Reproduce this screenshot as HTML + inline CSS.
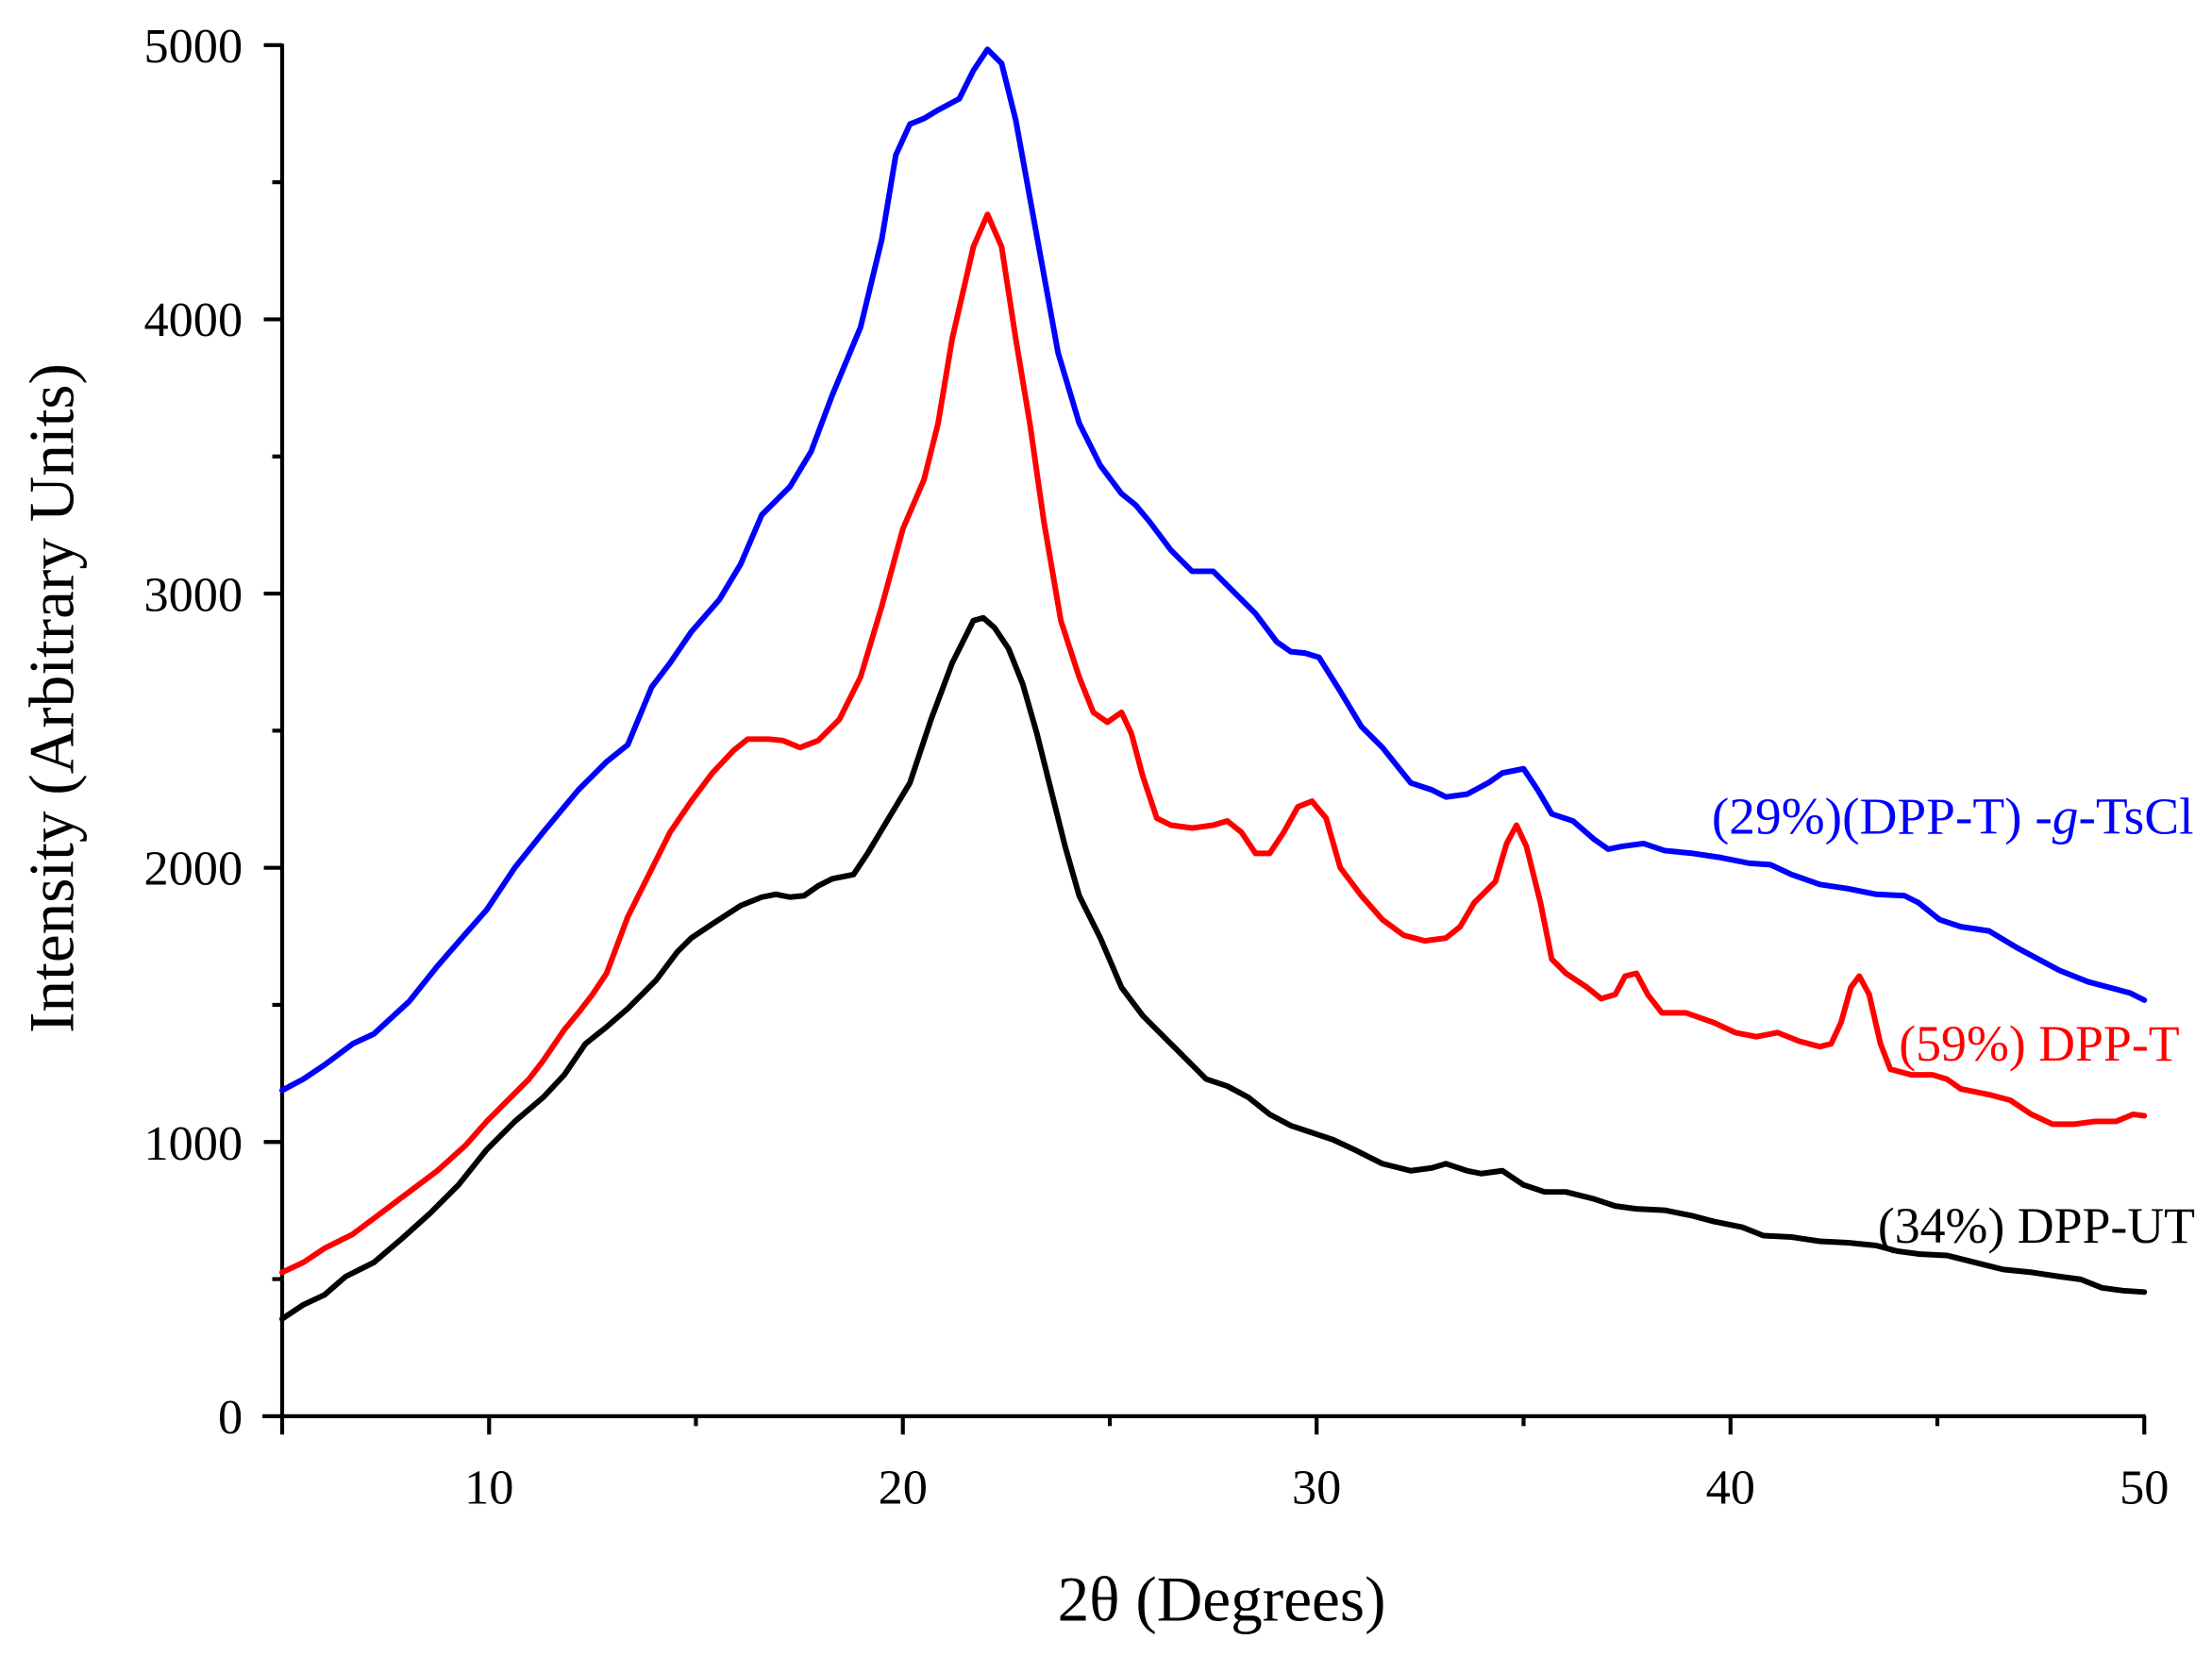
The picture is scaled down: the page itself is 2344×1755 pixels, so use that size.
<!DOCTYPE html>
<html><head><meta charset="utf-8"><style>html,body{margin:0;padding:0;background:#fff}svg{display:block}</style></head><body>
<svg width="2344" height="1755" viewBox="0 0 1568 1174" xmlns="http://www.w3.org/2000/svg" font-family="Liberation Serif, serif">
<rect width="1568" height="1174" fill="#fff"/>
<g stroke="#000" stroke-width="2.8" fill="none">
<line x1="200" y1="31" x2="200" y2="1005"/>
<line x1="186" y1="1004" x2="1521" y2="1004"/>
<line x1="187" y1="32" x2="200" y2="32"/><line x1="187" y1="226.4" x2="200" y2="226.4"/><line x1="187" y1="420.8" x2="200" y2="420.8"/><line x1="187" y1="615.2" x2="200" y2="615.2"/><line x1="187" y1="809.6" x2="200" y2="809.6"/>
<line x1="193" y1="129.2" x2="200" y2="129.2"/><line x1="193" y1="323.6" x2="200" y2="323.6"/><line x1="193" y1="518" x2="200" y2="518"/><line x1="193" y1="712.4" x2="200" y2="712.4"/><line x1="193" y1="906.8" x2="200" y2="906.8"/>
<line x1="200" y1="1004" x2="200" y2="1017"/><line x1="346.7" y1="1004" x2="346.7" y2="1017"/><line x1="640" y1="1004" x2="640" y2="1017"/><line x1="933.3" y1="1004" x2="933.3" y2="1017"/><line x1="1226.7" y1="1004" x2="1226.7" y2="1017"/><line x1="1520" y1="1004" x2="1520" y2="1017"/>
<line x1="493.3" y1="1004" x2="493.3" y2="1011"/><line x1="786.7" y1="1004" x2="786.7" y2="1011"/><line x1="1080" y1="1004" x2="1080" y2="1011"/><line x1="1373.3" y1="1004" x2="1373.3" y2="1011"/>
</g>
<g font-size="35" fill="#000" text-anchor="end">
<text x="172" y="44">5000</text><text x="172" y="238">4000</text><text x="172" y="433">3000</text><text x="172" y="627">2000</text><text x="172" y="822">1000</text><text x="172" y="1016">0</text>
</g>
<g font-size="35" fill="#000" text-anchor="middle">
<text x="346.7" y="1066">10</text><text x="640" y="1066">20</text><text x="933.3" y="1066">30</text><text x="1226.7" y="1066">40</text><text x="1520" y="1066">50</text>
</g>
<text x="866" y="1149" font-size="45" text-anchor="middle">2θ (Degrees)</text>
<text transform="translate(52,495) rotate(-90)" font-size="45" text-anchor="middle">Intensity (Arbitrary Units)</text>
<g fill="none" stroke-width="4" stroke-linejoin="round" stroke-linecap="round">
<polyline stroke="#0000ff" points="200,773 215,765 230,755 250,740 265,733 290,710 310,685 330,662 345,645 365,615 385,590 410,560 430,540 445,528 462,487 475,470 490,448 510,425 525,400 540,365 550,355 560,345 575,320 590,280 610,232 625,170 635,110 645,88 655,84 665,78 680,70 690,50 700,35 710,45 720,85 730,140 740,195 750,250 765,300 780,330 795,350 805,358 815,370 830,390 845,405 860,405 875,420 890,435 905,455 915,462 925,463 935,466 950,490 965,515 980,530 1000,555 1015,560 1025,565 1040,563 1055,555 1065,548 1080,545 1090,560 1100,577 1115,582 1130,595 1140,602 1150,600 1165,598 1180,603 1200,605 1220,608 1240,612 1255,613 1270,620 1290,627 1310,630 1330,634 1350,635 1360,640 1375,652 1390,657 1410,660 1430,672 1460,688 1480,696 1495,700 1510,704 1520,709"/>
<polyline stroke="#ff0000" points="200,902 215,895 230,885 250,875 270,860 290,845 310,830 330,812 345,795 360,780 375,765 385,752 400,730 410,718 420,705 430,690 445,650 460,620 475,590 490,568 505,548 520,532 530,524 545,524 555,525 567,530 580,525 595,510 610,480 625,430 640,375 655,340 665,300 675,240 690,175 700,152 710,175 720,240 730,300 740,370 752,440 765,480 775,505 785,512 795,505 802,520 810,550 820,580 830,585 845,587 860,585 870,582 880,590 890,605 900,605 910,590 920,572 930,568 940,580 950,615 965,635 980,652 995,663 1010,667 1025,665 1035,657 1045,640 1060,625 1068,598 1075,585 1082,600 1092,640 1100,680 1110,690 1125,700 1135,708 1145,705 1152,692 1160,690 1168,705 1178,718 1195,718 1215,725 1230,732 1245,735 1260,732 1275,738 1290,742 1298,740 1305,725 1312,700 1318,692 1325,705 1333,740 1340,758 1355,762 1370,762 1380,765 1390,772 1410,776 1425,780 1440,790 1455,797 1470,797 1485,795 1500,795 1512,790 1520,791"/>
<polyline stroke="#000000" points="200,935 215,925 230,918 245,905 265,895 285,878 305,860 325,840 345,815 365,795 385,778 400,762 415,740 430,728 445,715 465,695 480,675 490,665 505,655 525,642 540,636 550,634 560,636 570,635 580,628 590,623 605,620 615,605 630,580 645,555 660,510 675,470 690,440 697,438 705,445 715,460 725,485 735,520 745,560 755,600 765,635 780,665 795,700 810,720 825,735 840,750 855,765 870,770 885,778 900,790 915,798 930,803 945,808 960,815 980,825 1000,830 1015,828 1025,825 1040,830 1050,832 1065,830 1080,840 1095,845 1110,845 1130,850 1145,855 1160,857 1180,858 1200,862 1215,866 1235,870 1250,876 1270,877 1290,880 1310,881 1330,883 1345,887 1360,889 1380,890 1400,895 1420,900 1440,902 1460,905 1475,907 1490,913 1505,915 1520,916"/>
</g>
<text x="1555" y="591" font-size="37" fill="#0000ff" text-anchor="end">(29%)(DPP-T) -<tspan font-style="italic">g</tspan>-TsCl</text>
<text x="1545" y="752" font-size="36" fill="#ff0000" text-anchor="end">(59%) DPP-T</text>
<text x="1556" y="881" font-size="36" fill="#000" text-anchor="end">(34%) DPP-UT</text>
</svg>
</body></html>
